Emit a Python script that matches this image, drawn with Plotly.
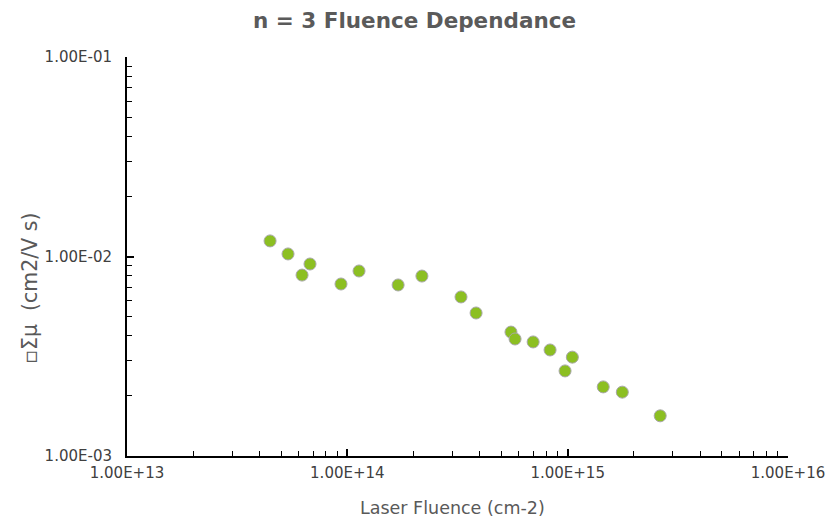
import plotly.graph_objects as go

fluence = [4.46e13, 5.38e13, 6.23e13, 6.77e13, 9.36e13, 1.13e14, 1.70e14, 2.18e14,
           3.28e14, 3.84e14, 5.53e14, 5.77e14, 6.97e14, 8.32e14, 1.05e15, 9.73e14,
           1.45e15, 1.77e15, 2.63e15]
mobility = [0.01197, 0.0103, 0.00807, 0.00917, 0.00728, 0.00846, 0.00720, 0.00798,
            0.00627, 0.00521, 0.00418, 0.00386, 0.00373, 0.00340, 0.00313, 0.00267,
            0.00222, 0.00209, 0.00159]

x_tickvals = [1e13, 1e14, 1e15, 1e16]
x_ticktext = ["1.00E+13", "1.00E+14", "1.00E+15", "1.00E+16"]
y_tickvals = [1e-3, 1e-2, 1e-1]
y_ticktext = ["1.00E-03", "1.00E-02", "1.00E-01"]

title_text = "n = 3 Fluence Dependance"
x_title = "Laser Fluence (cm-2)"
y_title = "\u25abΣμ\u00a0\u00a0(cm2/V s)"


def minor_vals(decades):
    return [m * 10 ** d for d in decades for m in range(2, 10)]


font_family = "DejaVu Sans"

fig = go.Figure()
fig.add_trace(go.Scatter(
    x=fluence, y=mobility, mode="markers",
    marker=dict(size=12, color="#8cbf22", line=dict(color="#a8a8a8", width=1)),
    showlegend=False,
))

fig.update_layout(
    width=826, height=523,
    margin=dict(l=127, r=38, t=57, b=67, autoexpand=False),
    paper_bgcolor="white", plot_bgcolor="white",
    font=dict(family=font_family, color="#404040", size=15),
    annotations=[
        dict(text=title_text, xref="paper", yref="paper", x=0.435, y=1.0927,
             xanchor="center", yanchor="middle", showarrow=False,
             font=dict(family=font_family, size=21.5, color="#5a5a5a", weight="bold")),
        dict(text=x_title, xref="paper", yref="paper", x=0.493, y=-0.130,
             xanchor="center", yanchor="middle", showarrow=False,
             font=dict(family=font_family, size=17.5, color="#595959")),
        dict(text=y_title, xref="paper", yref="paper", x=-0.147, y=0.421,
             xanchor="center", yanchor="middle", showarrow=False, textangle=-90,
             font=dict(family=font_family, size=20.5, color="#595959")),
    ],
)

fig.update_xaxes(
    type="log", range=[13, 16], automargin=False,
    tickvals=x_tickvals, ticktext=x_ticktext,
    ticks="inside", ticklen=7, tickwidth=1.5, tickcolor="black",
    minor=dict(ticks="inside", ticklen=5, tickcolor="black", tickwidth=1,
               tickvals=minor_vals([13, 14, 15]), showgrid=False),
    showline=True, linecolor="black", linewidth=2,
    showgrid=False, zeroline=False,
    tickfont=dict(size=15, color="#404040"),
    ticklabelstandoff=2,
    ticklabeloverflow="allow",
)
fig.update_yaxes(
    type="log", range=[-3, -1], automargin=False,
    tickvals=y_tickvals, ticktext=y_ticktext,
    ticks="inside", ticklen=7, tickwidth=1.5, tickcolor="black",
    minor=dict(ticks="inside", ticklen=5, tickcolor="black", tickwidth=1,
               tickvals=minor_vals([-3, -2]), showgrid=False),
    showline=True, linecolor="black", linewidth=2,
    showgrid=False, zeroline=False,
    tickfont=dict(size=15, color="#404040"),
    ticklabelstandoff=10,
)

fig.write_html(
    "out.html",
    config={"displayModeBar": False},
    post_script="document.body.style.margin='0';document.body.style.overflow='hidden';",
)
